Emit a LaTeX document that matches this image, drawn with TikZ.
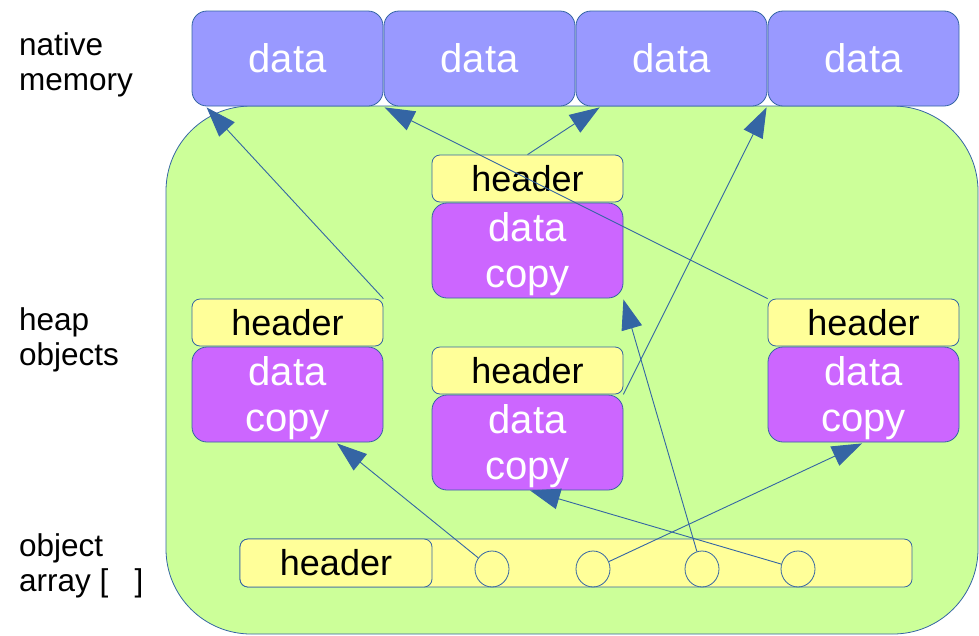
\documentclass[tikz,border=0pt]{standalone}
\usepackage{fontspec}
\setmainfont{Liberation Sans}
\usetikzlibrary{arrows.meta,calc,shapes.geometric}

\definecolor{nativefill}{HTML}{9999FF}
\definecolor{heapfill}{HTML}{CCFF99}
\definecolor{hdrfill}{HTML}{FFFF99}
\definecolor{copyfill}{HTML}{CC66FF}
\definecolor{edge}{HTML}{3465A4}

\tikzset{
  box/.style={draw=edge, line width=0.8pt, inner sep=0pt, minimum width=191pt},
  natbox/.style={box, fill=nativefill, rounded corners=15pt, minimum height=95pt,
    text=white, font=\fontsize{40}{45}\selectfont},
  hdrbox/.style={box, fill=hdrfill, rounded corners=8pt, minimum height=47pt,
    font=\fontsize{36}{40}\selectfont},
  cpybox/.style={box, fill=copyfill, rounded corners=15pt, minimum height=95pt,
    text=white, align=center, text height=82pt, font=\fontsize{40}{46}\selectfont},
  slot/.style={ellipse, draw=edge, line width=0.8pt, minimum width=34pt,
    minimum height=36pt, inner sep=0pt},
  lbl/.style={align=left, inner sep=0pt, font=\fontsize{31.5}{35}\selectfont},
  ptr/.style={draw=edge, line width=0.9pt, -{Triangle[length=30pt,width=21pt]}, edge}
}

\begin{document}
\begin{tikzpicture}[x=1pt, y=-1pt]
  \useasboundingbox (0,0) rectangle (979,635);

  % heap area
  \node (heap) [draw=edge, line width=0.8pt, fill=heapfill, rounded corners=85pt,
    minimum width=812pt, minimum height=528pt, inner sep=0pt] at (572,370) {};

  % native memory blocks
  \node (nat1) [natbox] at (287.5,58.5) {data};
  \node (nat2) [natbox] at (479.5,58.5) {data};
  \node (nat3) [natbox] at (671.5,58.5) {data};
  \node (nat4) [natbox] at (863.5,58.5) {data};

  % heap objects: header + data copy
  \node (lhdr)  [hdrbox] at (287.5,322.5) {header};
  \node (lcpy)  [cpybox] at (287.5,394.5) {data\\copy};
  \node (chdr1) [hdrbox] at (527.5,178.5) {header};
  \node (ccpy1) [cpybox] at (527.5,250.5) {data\\copy};
  \node (chdr2) [hdrbox] at (527.5,370.5) {header};
  \node (ccpy2) [cpybox] at (527.5,442.5) {data\\copy};
  \node (rhdr)  [hdrbox] at (863.5,322.5) {header};
  \node (rcpy)  [cpybox] at (863.5,394.5) {data\\copy};

  % object array with its slots
  \node (arr) [box, fill=hdrfill, rounded corners=8pt, minimum width=672pt,
    minimum height=48pt] at (576,563) {};
  \node (ahdr) [hdrbox, minimum width=192pt, minimum height=48pt] at (336,563) {header};
  \node (s1) [slot] at (492,569) {};
  \node (s2) [slot] at (593,569) {};
  \node (s3) [slot] at (702,569) {};
  \node (s4) [slot] at (798,569) {};

  % row labels (anchored at the baseline of their last line)
  \node (lblnat)  [lbl, anchor=base west] at (19,90)  {native\\memory};
  \node (lblheap) [lbl, anchor=base west] at (19,365) {heap\\objects};
  \node (lblarr)  [lbl, anchor=base west] at (19,591) {object\\array [\ \ \ ]};

  % references
  \draw[ptr] (lhdr.north east)  -- ($(nat1.south west)+(15,1)$);
  \draw[ptr] (rhdr.north west)  -- ($(nat2.south west)+(1,1)$);
  \draw[ptr] (chdr1.north)      -- ($(nat3.south west)+(24,1)$);
  \draw[ptr] (chdr2.south east) -- ($(nat4.south west)+(-1,1)$);
  \draw[ptr] (s1) -- ($(lcpy.south)+(49.5,1)$);
  \draw[ptr] (s2) -- ($(rcpy.south)+(-1.5,1)$);
  \draw[ptr] (s3) -- ($(ccpy1.south east)+(0,1)$);
  \draw[ptr] (s4) -- ($(ccpy2.south)+(2.5,0)$);
\end{tikzpicture}
\end{document}
